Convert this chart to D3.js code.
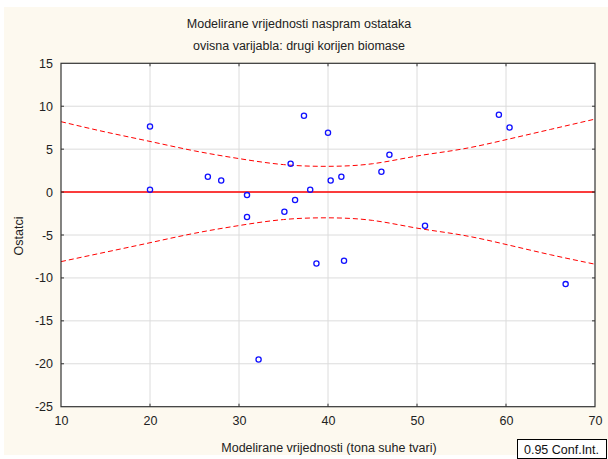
<!DOCTYPE html>
<html>
<head>
<meta charset="utf-8">
<script src="https://cdn.jsdelivr.net/npm/d3@7"></script>
<style>
  body { margin: 0; background: #fff; }
  svg { display: block; font-family: "Liberation Sans", Arial, sans-serif; }
</style>
</head>
<body>
<svg id="chart" width="608" height="459"></svg>
<script>
// fitted values vs residuals
const fitted = [20.0, 20.0, 26.5, 28.0, 30.9, 30.9, 32.2, 35.1, 35.8, 36.3, 37.3, 38.0,
  38.7, 40.0, 40.3, 41.5, 41.8, 46.0, 46.9, 50.9, 59.2, 60.4, 66.7];
const residuals = [7.64, 0.27, 1.78, 1.35, -0.35, -2.91, -19.5, -2.29, 3.30, -0.93, 8.89, 0.27,
  -8.32, 6.91, 1.35, 1.78, -8.0, 2.36, 4.34, -3.93, 9.0, 7.52, -10.72];

// confidence band
const bandX = [10, 15, 20, 25, 30, 35, 40, 45, 50, 55, 60, 65, 70];
const bandUpper = [8.2, 7.0, 5.9, 4.8, 3.9, 3.2, 3.0, 3.3, 4.2, 5.0, 6.1, 7.3, 8.5];
const bandLower = [-8.1, -7.0, -5.9, -4.8, -3.9, -3.2, -3.0, -3.3, -4.2, -5.0, -6.1, -7.3, -8.4];

const xTicks = [10, 20, 30, 40, 50, 60, 70];
const yTicks = [15, 10, 5, 0, -5, -10, -15, -20, -25];

const titleLines = ['Modelirane vrijednosti naspram ostataka', 'ovisna varijabla: drugi korijen biomase'];
const xTitle = 'Modelirane vrijednosti (tona suhe tvari)';
const yTitle = 'Ostatci';
const legendText = '0.95 Conf.Int.';

const FONT = 12.5;
const TEXT_COLOR = '#222';

const svg = d3.select('#chart');
const plotLeft = 61, plotRight = 595, plotTop = 63.3, plotBottom = 406.7;

svg.append('rect')
  .attr('x', 4).attr('y', 7).attr('width', 604).attr('height', 448)
  .attr('fill', '#fdf9ef');

const x = d3.scaleLinear().domain([10, 70]).range([plotLeft, plotRight]);
const y = d3.scaleLinear().domain([-25, 15]).range([plotBottom, plotTop]);

svg.append('rect')
  .attr('x', plotLeft).attr('y', plotTop)
  .attr('width', plotRight - plotLeft).attr('height', plotBottom - plotTop)
  .attr('fill', '#fff');

// grid
const grid = svg.append('g').attr('stroke', '#dcdcdc').attr('stroke-width', 1);
grid.selectAll('line.v')
  .data(xTicks.slice(1, -1))
  .enter()
  .append('line')
  .attr('x1', (d) => x(d)).attr('x2', (d) => x(d))
  .attr('y1', plotTop).attr('y2', plotBottom);
grid.selectAll('line.h')
  .data(yTicks.slice(1, -1))
  .enter()
  .append('line')
  .attr('x1', plotLeft).attr('x2', plotRight)
  .attr('y1', (d) => y(d)).attr('y2', (d) => y(d));

// axes
const xAxis = svg.append('g')
  .attr('transform', `translate(0,${plotBottom})`)
  .call(d3.axisBottom(x).tickValues(xTicks).tickSize(0).tickPadding(9).tickFormat(d3.format('d')));
const yAxis = svg.append('g')
  .attr('transform', `translate(${plotLeft},0)`)
  .call(d3.axisLeft(y).tickValues(yTicks).tickSize(0).tickPadding(8).tickFormat((d) => (d < 0 ? '-' + Math.abs(d) : d)));
[xAxis, yAxis].forEach((a) => {
  a.select('.domain').remove();
  a.selectAll('text').attr('font-size', FONT).attr('fill', TEXT_COLOR)
    .attr('font-family', '"Liberation Sans", Arial, sans-serif');
});

// zero line
svg.append('line')
  .attr('x1', plotLeft).attr('x2', plotRight)
  .attr('y1', y(0)).attr('y2', y(0))
  .attr('stroke', '#ff0000').attr('stroke-width', 1.5);

// confidence band
const bandLine = d3.line()
  .x((d) => x(d[0]))
  .y((d) => y(d[1]))
  .curve(d3.curveNatural);
[bandUpper, bandLower].forEach((band) => {
  svg.append('path')
    .datum(bandX.map((v, i) => [v, band[i]]))
    .attr('d', bandLine)
    .attr('fill', 'none')
    .attr('stroke', '#ff0000')
    .attr('stroke-width', 1)
    .attr('stroke-dasharray', '5,3');
});

// points
svg.append('g')
  .selectAll('circle')
  .data(fitted.map((v, i) => [v, residuals[i]]))
  .enter()
  .append('circle')
  .attr('cx', (d) => x(d[0]))
  .attr('cy', (d) => y(d[1]))
  .attr('r', 2.6)
  .attr('fill', 'none')
  .attr('stroke', '#1010ff')
  .attr('stroke-width', 1.3);

// frame
svg.append('rect')
  .attr('x', plotLeft).attr('y', plotTop)
  .attr('width', plotRight - plotLeft).attr('height', plotBottom - plotTop)
  .attr('fill', 'none').attr('stroke', '#333').attr('stroke-width', 1.2);

// small inner ticks on all four sides
const tickG = svg.append('g').attr('stroke', '#333').attr('stroke-width', 1);
xTicks.slice(1, -1).forEach((d) => {
  tickG.append('line').attr('x1', x(d)).attr('x2', x(d)).attr('y1', plotTop).attr('y2', plotTop + 3);
  tickG.append('line').attr('x1', x(d)).attr('x2', x(d)).attr('y1', plotBottom).attr('y2', plotBottom - 3);
});
yTicks.slice(1, -1).forEach((d) => {
  tickG.append('line').attr('x1', plotRight).attr('x2', plotRight - 3).attr('y1', y(d)).attr('y2', y(d));
  tickG.append('line').attr('x1', plotLeft).attr('x2', plotLeft + 3).attr('y1', y(d)).attr('y2', y(d));
});

// titles
svg.selectAll('text.title')
  .data(titleLines)
  .enter()
  .append('text')
  .attr('x', 299)
  .attr('y', (d, i) => 28 + i * 22)
  .attr('text-anchor', 'middle')
  .attr('font-size', FONT)
  .attr('fill', TEXT_COLOR)
  .text((d) => d);

svg.append('text')
  .attr('x', 329).attr('y', 452)
  .attr('text-anchor', 'middle')
  .attr('font-size', FONT).attr('fill', TEXT_COLOR)
  .text(xTitle);

svg.append('text')
  .attr('transform', 'translate(23,236) rotate(-90)')
  .attr('text-anchor', 'middle')
  .attr('font-size', FONT).attr('fill', TEXT_COLOR)
  .text(yTitle);

// legend box
svg.append('rect')
  .attr('x', 517.5).attr('y', 439.5).attr('width', 89).attr('height', 19)
  .attr('fill', '#fff').attr('stroke', '#000').attr('stroke-width', 1);
svg.append('text')
  .attr('x', 561.5).attr('y', 454)
  .attr('text-anchor', 'middle')
  .attr('font-size', FONT).attr('fill', '#111')
  .text(legendText);
</script>
</body>
</html>
